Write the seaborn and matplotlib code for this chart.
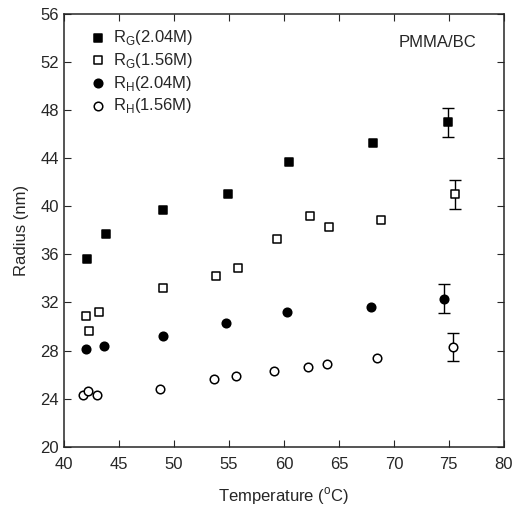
import seaborn as sns
import matplotlib.pyplot as plt
import pandas as pd

# Daten
t_rg204 = [42.1, 43.8, 49.0, 54.9, 60.5, 68.1, 74.9]
r_rg204 = [35.6, 37.7, 39.7, 41.0, 43.7, 45.3, 47.0]

t_rg156 = [42.0, 42.3, 43.2, 49.0, 53.8, 55.8, 59.4, 62.4, 64.1, 68.8, 75.6]
r_rg156 = [30.9, 29.6, 31.2, 33.2, 34.2, 34.9, 37.3, 39.2, 38.3, 38.9, 41.0]

t_rh204 = [42.0, 43.6, 49.0, 54.7, 60.3, 67.9, 74.6]
r_rh204 = [28.1, 28.4, 29.2, 30.3, 31.2, 31.6, 32.3]

t_rh156 = [41.7, 42.2, 43.0, 48.7, 53.6, 55.6, 59.1, 62.2, 63.9, 68.5, 75.4]
r_rh156 = [24.3, 24.6, 24.3, 24.8, 25.6, 25.9, 26.3, 26.6, 26.9, 27.4, 28.3]

err = 1.2  # Fehlerbalken nur am letzten Punkt

series = [
    ("R$_\\mathregular{G}$(2.04M)", t_rg204, r_rg204, "s", "black"),
    ("R$_\\mathregular{G}$(1.56M)", t_rg156, r_rg156, "s", "white"),
    ("R$_\\mathregular{H}$(2.04M)", t_rh204, r_rh204, "o", "black"),
    ("R$_\\mathregular{H}$(1.56M)", t_rh156, r_rh156, "o", "white"),
]

sns.set_style("ticks")
plt.rcParams["font.family"] = ["Liberation Sans", "DejaVu Sans"]

fig = plt.figure(figsize=(5.21, 5.13), dpi=100)
ax = fig.add_axes([0.123, 0.129, 0.844, 0.844])

for label, t, r, m, fc in series:
    df = pd.DataFrame({"T": t, "R": r})
    sns.scatterplot(data=df, x="T", y="R", marker=m, s=38, color=fc,
                    edgecolor="black", linewidth=1.1, label=label, ax=ax, zorder=3)
    ax.errorbar(t[-1], r[-1], yerr=err, fmt="none", ecolor="black",
                elinewidth=1, capsize=4, capthick=1, zorder=2)

ax.set_xlim(40, 80)
ax.set_ylim(20, 56)
ax.set_xticks(range(40, 81, 5))
ax.set_yticks(range(20, 57, 4))
ax.tick_params(direction="in", top=True, right=True, length=5, labelsize=12)
ax.tick_params(axis="x", pad=7)
for s in ax.spines.values():
    s.set_linewidth(1.1)

ax.set_xlabel("Temperature ($^\\mathregular{o}$C)", fontsize=12, labelpad=10)
ax.set_ylabel("Radius (nm)", fontsize=12, labelpad=8)
ax.text(74.0, 53.6, "PMMA/BC", fontsize=12, ha="center", va="center")

ax.legend(loc="upper left", bbox_to_anchor=(0.035, 0.99), frameon=False,
          fontsize=12, handletextpad=0.4, borderaxespad=0.2,
          labelspacing=0.22, handlelength=1.0)

plt.savefig("out.png", dpi=100)
